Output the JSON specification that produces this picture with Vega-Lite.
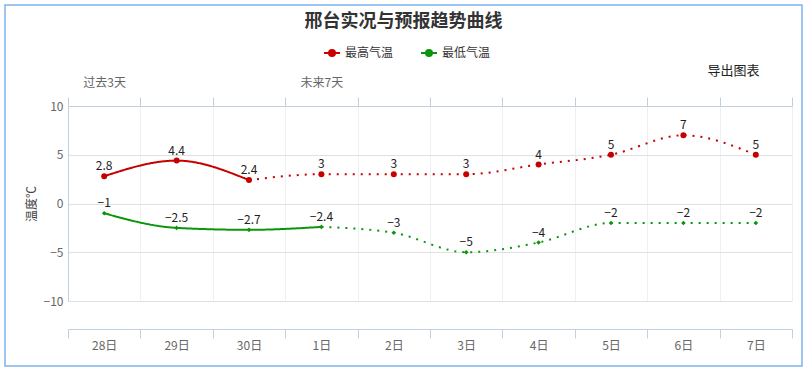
{
  "$schema": "https://vega.github.io/schema/vega-lite/v6.json",
  "width": 797,
  "height": 361,
  "autosize": {"type": "none"},
  "padding": {"left": 5, "top": 5, "right": 7, "bottom": 4},
  "background": "#ffffff",
  "title": {
    "text": "邢台实况与预报趋势曲线",
    "fontSize": 18,
    "fontWeight": "bold",
    "color": "#333333",
    "anchor": "middle",
    "frame": "group",
    "baseline": "middle",
    "offset": -19,
    "dy": 16
  },
  "config": {
    "font": "Noto Sans CJK SC",
    "view": {"stroke": "#7cb2ea", "strokeWidth": 1.5}
  },
  "data": {
    "values": [
      {"series": "最高气温", "day": "28日", "t": 2.8, "seg": "实况"},
      {"series": "最高气温", "day": "29日", "t": 4.4, "seg": "实况"},
      {"series": "最高气温", "day": "30日", "t": 2.4, "seg": "实况"},
      {"series": "最高气温", "day": "30日", "t": 2.4, "seg": "预报", "dup": true},
      {"series": "最高气温", "day": "1日", "t": 3, "seg": "预报"},
      {"series": "最高气温", "day": "2日", "t": 3, "seg": "预报"},
      {"series": "最高气温", "day": "3日", "t": 3, "seg": "预报"},
      {"series": "最高气温", "day": "4日", "t": 4, "seg": "预报"},
      {"series": "最高气温", "day": "5日", "t": 5, "seg": "预报"},
      {"series": "最高气温", "day": "6日", "t": 7, "seg": "预报"},
      {"series": "最高气温", "day": "7日", "t": 5, "seg": "预报"},
      {"series": "最低气温", "day": "28日", "t": -1, "seg": "实况"},
      {"series": "最低气温", "day": "29日", "t": -2.5, "seg": "实况"},
      {"series": "最低气温", "day": "30日", "t": -2.7, "seg": "实况"},
      {"series": "最低气温", "day": "1日", "t": -2.4, "seg": "实况"},
      {"series": "最低气温", "day": "1日", "t": -2.4, "seg": "预报", "dup": true},
      {"series": "最低气温", "day": "2日", "t": -3, "seg": "预报"},
      {"series": "最低气温", "day": "3日", "t": -5, "seg": "预报"},
      {"series": "最低气温", "day": "4日", "t": -4, "seg": "预报"},
      {"series": "最低气温", "day": "5日", "t": -2, "seg": "预报"},
      {"series": "最低气温", "day": "6日", "t": -2, "seg": "预报"},
      {"series": "最低气温", "day": "7日", "t": -2, "seg": "预报"}
    ]
  },
  "resolve": {"axis": {"x": "independent", "y": "independent"}},
  "layer": [
    {
      "mark": {"type": "line", "interpolate": "monotone", "strokeWidth": 2},
      "encoding": {
        "x": {
          "field": "day", "type": "ordinal",
          "sort": ["28日","29日","30日","1日","2日","3日","4日","5日","6日","7日"],
          "scale": {"type": "band", "range": [63, 787], "paddingInner": 0, "paddingOuter": 0},
          "axis": {
            "orient": "bottom", "offset": -37, "tickBand": "extent", "grid": false,
            "domainColor": "#c0d0e0", "tickColor": "#c0d0e0", "tickSize": 9,
            "labelColor": "#666666", "labelFontSize": 12, "labelPadding": 2, "labelAngle": 0,
            "title": null
          }
        },
        "y": {
          "field": "t", "type": "quantitative",
          "scale": {"domain": [-10, 10], "range": [296, 101], "nice": false, "zero": false},
          "axis": {
            "orient": "left", "offset": -63, "grid": false, "ticks": false,
            "values": [-10, -5, 0, 5, 10],
            "domainColor": "#c0d0e0",
            "labelColor": "#666666", "labelFontSize": 12, "labelPadding": 5,
            "title": "温度℃", "titleColor": "#444444", "titleFontSize": 12,
            "titleFontWeight": "normal", "titlePadding": 5
          }
        },
        "color": {
          "field": "series", "type": "nominal",
          "scale": {"domain": ["最高气温", "最低气温"], "range": ["#c80000", "#0a960a"]},
          "legend": {
            "title": null, "orient": "none", "direction": "horizontal",
            "legendX": 318, "legendY": 39, "padding": 0,
            "symbolType": "M-1,0H1M-0.375,0A0.375,0.375,0,1,0,0.375,0A0.375,0.375,0,1,0,-0.375,0Z",
            "symbolSize": 256, "symbolStrokeWidth": 2,
            "labelFontSize": 12, "labelColor": "#333333", "labelOffset": 4,
            "columnPadding": 23,
            "encode": {
              "symbols": {
                "update": {
                  "shape": {"value": "M-1,0H1M-0.375,0A0.375,0.375,0,1,0,0.375,0A0.375,0.375,0,1,0,-0.375,0Z"},
                  "size": {"value": 256},
                  "strokeWidth": {"value": 2},
                  "opacity": {"value": 1},
                  "fill": {"scale": "color", "field": "value"},
                  "stroke": {"scale": "color", "field": "value"}
                }
              }
            }
          }
        },
        "detail": {"field": "seg", "type": "nominal"},
        "strokeDash": {
          "field": "seg", "type": "nominal",
          "scale": {"domain": ["实况", "预报"], "range": [[1, 0], [2, 6]]},
          "legend": null
        }
      }
    },
    {
      "transform": [{"filter": "datum.dup !== true && datum.series == '最高气温'"}],
      "mark": {"type": "point", "filled": true, "opacity": 1, "shape": "circle", "size": 36, "color": "#c80000"},
      "encoding": {
        "x": {
          "field": "day", "type": "ordinal",
          "sort": ["28日","29日","30日","1日","2日","3日","4日","5日","6日","7日"],
          "axis": {
            "orient": "top", "offset": -101, "tickBand": "extent", "grid": false,
            "domainColor": "#c0d0e0", "tickColor": "#c0d0e0", "tickSize": 9,
            "labelExpr": "datum.value == '28日' ? '过去3天' : datum.value == '1日' ? '未来7天' : ''",
            "labelOverlap": false,
            "labelColor": "#666666", "labelFontSize": 12, "labelPadding": 8, "labelDx": 4, "labelAngle": 0,
            "title": "导出图表", "titleX": 728, "titleY": -36, "titleBaseline": "middle",
            "titleAlign": "center", "titleAngle": 0, "titleFontSize": 13,
            "titleFontWeight": "normal", "titleColor": "#222222"
          }
        },
        "y": {
          "field": "t", "type": "quantitative",
          "axis": {
            "orient": "left", "offset": 0, "grid": true, "gridColor": "#e0e0e0",
            "values": [-10, -5, 0, 5, 10],
            "domain": false, "ticks": false, "labels": false, "title": null
          }
        }
      }
    },
    {
      "transform": [{"filter": "datum.dup !== true && datum.series == '最低气温'"}],
      "mark": {"type": "point", "filled": true, "opacity": 1, "shape": "diamond", "size": 22, "color": "#0a960a"},
      "encoding": {
        "x": {
          "field": "day", "type": "ordinal",
          "sort": ["28日","29日","30日","1日","2日","3日","4日","5日","6日","7日"],
          "axis": null
        },
        "y": {"field": "t", "type": "quantitative", "axis": null}
      }
    },
    {
      "transform": [{"filter": "datum.dup !== true"}],
      "mark": {"type": "text", "dy": -10, "fontSize": 12, "color": "#222222", "baseline": "middle"},
      "encoding": {
        "x": {
          "field": "day", "type": "ordinal",
          "sort": ["28日","29日","30日","1日","2日","3日","4日","5日","6日","7日"],
          "axis": {
            "orient": "top", "offset": 0, "tickBand": "extent", "grid": true, "gridColor": "#eef0f4",
            "domain": false, "ticks": false, "labels": false, "title": null
          }
        },
        "y": {"field": "t", "type": "quantitative", "axis": null},
        "text": {"field": "t", "type": "quantitative", "format": ".1~f"}
      }
    }
  ]
}
